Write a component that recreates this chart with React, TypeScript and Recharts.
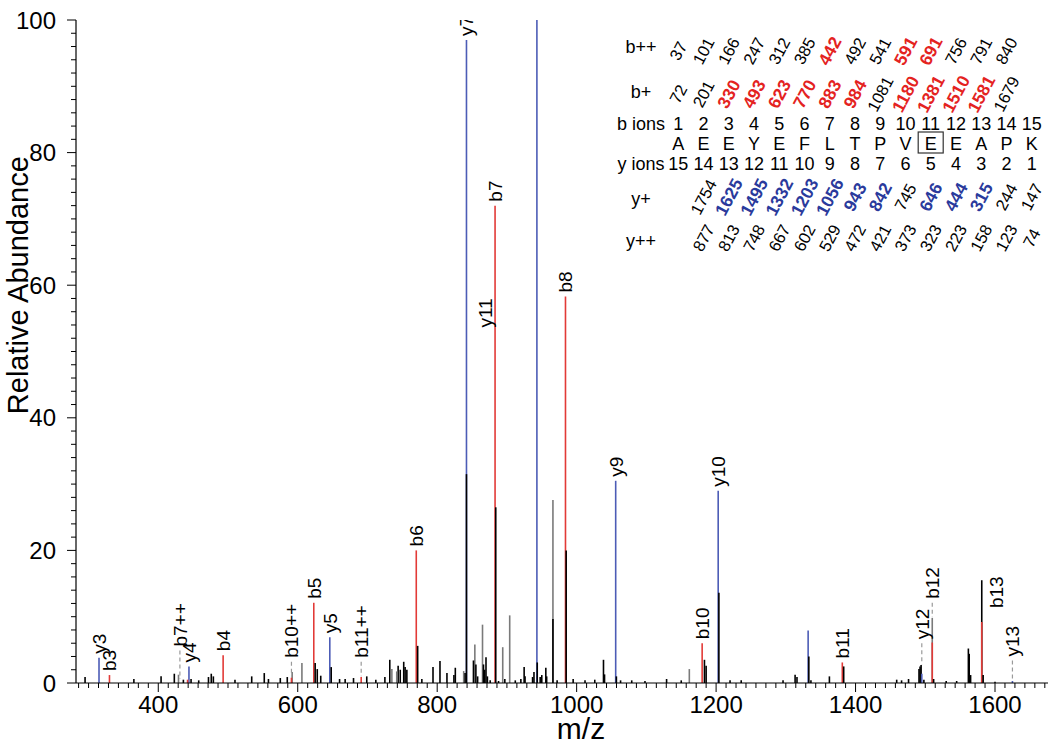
import React from 'react';
import { ScatterChart, Scatter, XAxis, YAxis, ReferenceLine, Label } from 'recharts';

const FONT = '"Liberation Sans", Arial, Helvetica, sans-serif';

// ---------- axis settings ----------
const mzDomain: [number, number] = [282, 1676];
const mzLabelTicks = [400, 600, 800, 1000, 1200, 1400, 1600];
const mzMinorPerMajor = 14;
const abundanceLabelTicks = [0, 20, 40, 60, 80, 100];
const abundanceMinorStep = 2;

// ---------- annotated fragment ions: [name, m/z, relative abundance] ----------
const yIonPeaks: [string, number, number][] = [
  ['y3', 315, 3.8], ['y4', 444, 2.5], ['y5', 646, 6.9], ['y7', 842, 97], ['y8', 943, 100],
  ['y9', 1056, 30.5], ['y10', 1203, 29], ['y11', 1332, 7.9], ['y12', 1495, 1.4], ['y13', 1625, 0.3],
];
const bIonPeaks: [string, number, number][] = [
  ['b3', 330, 1.2], ['b7++', 442, 0.5], ['b4', 493, 4.2], ['b10++', 591, 0.8], ['b5', 623, 12.1],
  ['b11++', 691, 0.9], ['b6', 770, 20], ['b7', 883, 72], ['b8', 984, 58.3], ['b10', 1180, 6.0],
  ['b11', 1381, 3.1], ['b12', 1510, 6.1], ['b13', 1581, 9.2],
];

// ---------- unassigned / underlying spectrum peaks: [m/z, relative abundance] ----------
const blackPeaks: [number, number][] = [
  [295, 0.9], [365, 0.6], [404, 1.0], [423, 1.4], [436, 0.5], [447, 0.6], [458, 0.4], [472, 0.9],
  [476, 1.4], [479, 1.0], [510, 0.5], [534, 1.0], [552, 1.5], [558, 0.6], [575, 0.75], [585, 0.9],
  [625, 3.0], [628, 2.1], [633, 1.1], [648, 2.4], [660, 0.6], [668, 0.6], [680, 0.75], [699, 1.0],
  [712, 0.5], [725, 0.9], [732, 3.5], [744, 2.6], [747, 2.0], [752, 3.2], [754, 2.4], [756.5, 2.0],
  [772, 5.6], [778, 0.6], [794, 2.4], [804, 3.3], [814, 1.5], [824, 1.2], [826, 2.3], [840, 1.5],
  [842, 31.5], [852, 3.4], [855.5, 2.8], [858, 1.0], [866.4, 2.8], [868, 2.0], [870, 3.9], [872, 1.0],
  [876, 0.4], [884, 26.5], [888, 0.3], [897, 0.6], [912, 0.4], [920, 0.6], [924.7, 2.4], [926, 1.0],
  [936.8, 0.9], [938.8, 1.66], [943.5, 3.1], [947.7, 0.9], [950, 1.2], [955.8, 2.3], [957, 1.0],
  [966, 9.65], [972, 0.4], [985, 20], [995, 0.6], [1012, 0.4], [1026, 0.5], [1038.5, 3.5], [1040, 1.3],
  [1057, 1.0], [1063, 0.4], [1079, 0.4], [1098, 0.3], [1129, 0.6], [1150, 0.4], [1183.3, 3.5],
  [1185.7, 2.6], [1204, 13.6], [1220, 0.4], [1236, 0.4], [1296, 0.4], [1313.3, 1.26], [1316, 0.9],
  [1333, 4.0], [1336, 0.4], [1362.5, 1.0], [1383, 2.5], [1459, 0.5], [1466, 0.4], [1476, 0.6],
  [1491, 2.1], [1492.5, 2.5], [1494, 2.7], [1498, 0.5], [1512, 0.6], [1530, 0.3], [1545, 0.3],
  [1561.8, 5.2], [1563, 4.4], [1565, 1.2], [1581, 15.5], [1583, 1.2], [1600, 0.2],
];
const grayPeaks: [number, number][] = [
  [429, 1.25], [592, 1.65], [606, 3.0], [735, 2.1], [742, 1.75], [838, 1.8], [854, 5.8], [865, 8.8],
  [894, 5.4], [904, 10.2], [966, 27.6], [1161.6, 2.1], [1510, 9.8],
];

// labels drawn away from their peak: [text, label m/z, label abundance]
const shiftedLabels: [string, number, number][] = [
  ['b7++', 431, 4.9], ['b10++', 591, 3.2], ['b11++', 691, 3.2], ['y11', 869, 53],
  ['y12', 1495, 6.0], ['b12', 1510, 12.1], ['b13', 1601, 10.7], ['y13', 1625, 3.4],
];
// dashed connectors between shifted labels and peaks: [m/z, from, to]
const connectors: [number, number, number][] = [
  [431, 4.9, 0.6], [591, 3.2, 1.0], [691, 3.2, 1.0], [1495, 6.0, 2.8], [1510, 12.1, 9.9], [1625, 3.4, 0.4],
];

// ---------- fragment table ----------
const residues = ['A', 'E', 'E', 'Y', 'E', 'F', 'L', 'T', 'P', 'V', 'E', 'E', 'A', 'P', 'K'];
const bDoubly = [37, 101, 166, 247, 312, 385, 442, 492, 541, 591, 691, 756, 791, 840];
const bSingly = [72, 201, 330, 493, 623, 770, 883, 984, 1081, 1180, 1381, 1510, 1581, 1679];
const ySingly = [1754, 1625, 1495, 1332, 1203, 1056, 943, 842, 745, 646, 444, 315, 244, 147];
const yDoubly = [877, 813, 748, 667, 602, 529, 472, 421, 373, 323, 223, 158, 123, 74];
const bDoublyMatched = [442, 591, 691];
const bSinglyMatched = [330, 493, 623, 770, 883, 984, 1180, 1381, 1510, 1581];
const ySinglyMatched = [1625, 1495, 1332, 1203, 1056, 943, 842, 646, 444, 315];
const boxedResidue = 10;

const BLUE = '#4c5cb6';
const RED = '#e23a37';
const TAB_RED = '#e4231f';
const TAB_BLUE = '#2a3a9c';

type Seg = { mz: number; h: number; color: string };
const segments: Seg[] = [
  ...yIonPeaks.map(([, mz, h]) => ({ mz, h, color: BLUE })),
  ...bIonPeaks.map(([, mz, h]) => ({ mz, h, color: RED })),
  ...blackPeaks.map(([mz, h]) => ({ mz, h, color: '#000' })),
  ...grayPeaks.map(([mz, h]) => ({ mz, h, color: '#7a7a7a' })),
].sort((a, b) => b.h - a.h);

const shiftedNames = shiftedLabels.map((l) => l[0]);
const labelPoints = [
  ...[...yIonPeaks, ...bIonPeaks]
    .filter(([n]) => !shiftedNames.includes(n))
    .map(([text, mz, v]) => ({ text, mz, v })),
  ...shiftedLabels.map(([text, mz, v]) => ({ text, mz, v })),
];

const majorStep = mzLabelTicks[1] - mzLabelTicks[0];
const minorStep = majorStep / mzMinorPerMajor;
const mzTicks: number[] = [];
for (let k = Math.ceil((mzDomain[0] - mzLabelTicks[0]) / minorStep); mzLabelTicks[0] + k * minorStep <= mzDomain[1]; k++) {
  mzTicks.push(mzLabelTicks[0] + k * minorStep);
}
const abTicks: number[] = [];
for (let t = 0; t <= 100; t += abundanceMinorStep) abTicks.push(t);

const XTick = (props: any) => {
  const { x, y, payload } = props;
  const v = payload.value;
  const major = mzLabelTicks.some((t) => Math.abs(t - v) < 1e-6);
  return (
    <g>
      <line x1={x} x2={x} y1={y} y2={y + (major ? 9 : 5)} stroke="#000" strokeWidth={1} />
      {major && (
        <text x={x} y={y + 30} textAnchor="middle" fontSize={24} fontFamily={FONT} fill="#000">
          {Math.round(v)}
        </text>
      )}
    </g>
  );
};

const YTick = (props: any) => {
  const { x, y, payload } = props;
  const v = payload.value;
  const major = abundanceLabelTicks.includes(v);
  return (
    <g>
      <line x1={x - (major ? 9 : 5)} x2={x} y1={y} y2={y} stroke="#000" strokeWidth={1} />
      {major && (
        <text x={x - 20} y={y} dy="0.36em" textAnchor="end" fontSize={24} fontFamily={FONT} fill="#000">
          {v}
        </text>
      )}
    </g>
  );
};

const PeakLabel = (props: any) => {
  const { cx, cy, payload } = props;
  if (cx == null || cy == null) return null;
  return (
    <text
      transform={`rotate(-90 ${cx} ${cy})`}
      x={cx + 4}
      y={cy}
      dy="0.36em"
      fontSize={19}
      fontFamily={FONT}
      fill="#000"
    >
      {payload.text}
    </text>
  );
};

const FragmentTable = () => {
  const col = (i: number) => 678.3 + 25.24 * i;
  const labelX = 641;
  const rot = (vals: number[], start: number, y: number, matched: number[], color: string) =>
    vals.map((v, i) => {
      const m = matched.includes(v);
      return (
        <text
          key={`${y}-${i}`}
          transform={`translate(${col(start + i)},${y}) rotate(-62)`}
          textAnchor="middle"
          dy="0.35em"
          fontSize={m ? 17.5 : 16.5}
          fontWeight={m ? 'bold' : 'normal'}
          fill={m ? color : '#000'}
          fontFamily={FONT}
        >
          {v}
        </text>
      );
    });
  return (
    <svg width={1050} height={745} style={{ position: 'absolute', left: 0, top: 0, pointerEvents: 'none' }}>
      <g fontFamily={FONT} fontSize={18} fill="#000">
        <text x={labelX} y={53} textAnchor="middle">b++</text>
        <text x={labelX} y={98} textAnchor="middle">b+</text>
        <text x={labelX} y={130} textAnchor="middle">b ions</text>
        <text x={labelX} y={170} textAnchor="middle">y ions</text>
        <text x={labelX} y={205} textAnchor="middle">y+</text>
        <text x={labelX} y={247} textAnchor="middle">y++</text>
        {residues.map((r, i) => (
          <text key={`n${i}`} x={col(i)} y={130} textAnchor="middle">{i + 1}</text>
        ))}
        {residues.map((r, i) => (
          <text key={`r${i}`} x={col(i)} y={150} textAnchor="middle">{r}</text>
        ))}
        {residues.map((r, i) => (
          <text key={`y${i}`} x={col(i)} y={170} textAnchor="middle">{residues.length - i}</text>
        ))}
        <rect x={col(boxedResidue) - 12.5} y={132} width={25} height={21} fill="none" stroke="#333" strokeWidth={1.2} />
      </g>
      {rot(bDoubly, 0, 51, bDoublyMatched, TAB_RED)}
      {rot(bSingly, 0, 94, bSinglyMatched, TAB_RED)}
      {rot(ySingly, 1, 197, ySinglyMatched, TAB_BLUE)}
      {rot(yDoubly, 1, 238, [], TAB_BLUE)}
    </svg>
  );
};

export default function App() {
  return (
    <div style={{ position: 'absolute', left: 0, top: 0, width: 1050, height: 745, background: '#fff' }}>
      <ScatterChart width={1050} height={745} margin={{ top: 20, right: 2, bottom: 0, left: 0 }}>
        <XAxis
          type="number"
          dataKey="mz"
          domain={mzDomain}
          allowDataOverflow
          ticks={mzTicks}
          interval={0}
          height={62}
          tickSize={0}
          tickMargin={0}
          tickLine={false}
          tick={<XTick />}
          axisLine={{ stroke: '#000', strokeWidth: 1.2 }}
        >
          <Label
            content={(p: any) => {
              const vb = p.viewBox;
              return (
                <text x={vb.x + vb.width / 2 + 19} y={vb.y + 56} textAnchor="middle" fontSize={30} fontFamily={FONT} fill="#000">
                  m/z
                </text>
              );
            }}
          />
        </XAxis>
        <YAxis
          type="number"
          dataKey="v"
          domain={[0, 100]}
          allowDataOverflow
          ticks={abTicks}
          interval={0}
          width={76}
          tickSize={0}
          tickMargin={0}
          tickLine={false}
          tick={<YTick />}
          axisLine={{ stroke: '#000', strokeWidth: 1.2 }}
        >
          <Label
            content={(p: any) => {
              const vb = p.viewBox;
              const cy = vb.y + vb.height * 0.4;
              return (
                <text transform={`rotate(-90 28 ${cy})`} x={28} y={cy} textAnchor="middle" fontSize={29} fontFamily={FONT} fill="#000">
                  Relative Abundance
                </text>
              );
            }}
          />
        </YAxis>
        {segments.map((s, i) => (
          <ReferenceLine
            key={`s${i}`}
            segment={[{ x: s.mz, y: 0 }, { x: s.mz, y: s.h }]}
            stroke={s.color}
            strokeWidth={1.6}
            ifOverflow="visible"
          />
        ))}
        {connectors.map(([mz, a, b], i) => (
          <ReferenceLine
            key={`c${i}`}
            segment={[{ x: mz, y: a }, { x: mz, y: b }]}
            stroke="#9a9a9a"
            strokeWidth={1.2}
            strokeDasharray="4 3"
            ifOverflow="visible"
          />
        ))}
        <Scatter data={labelPoints} shape={<PeakLabel />} isAnimationActive={false} />
      </ScatterChart>
      <FragmentTable />
    </div>
  );
}
